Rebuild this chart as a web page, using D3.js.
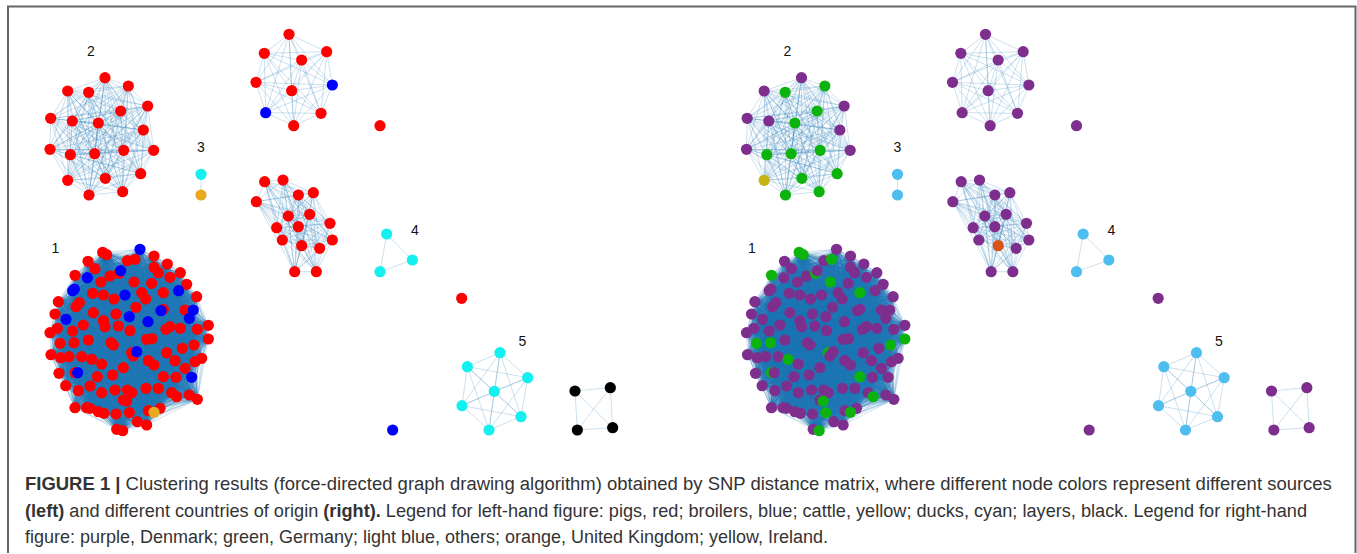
<!DOCTYPE html>
<html>
<head>
<meta charset="utf-8">
<script src="https://cdn.jsdelivr.net/npm/d3@7"></script>
<style>
  html, body { margin: 0; padding: 0; background: #fff; }
  svg { display: block; }
  text { font-family: "Liberation Sans", Arial, Helvetica, sans-serif; }
</style>
</head>
<body>
<svg id="fig" width="1357" height="554"></svg>
<script>
// ---- layout data -------------------------------------------------------
// Node positions come from the force-directed layout, in layout units.
// Each cluster is stored in its own local frame; clusterFrames gives the
// shift of that frame inside the shared layout space.
// Row format: [x, y, source, country]
//   source:  p = pigs, b = broilers, c = cattle, d = ducks, l = layers
//   country: dk = Denmark, de = Germany, ot = others, uk = United Kingdom, ie = Ireland

const clusterFrames = [
  { id: "c1", dx: 0,    dy: 660 },
  { id: "c2", dx: 0,    dy: 0 },
  { id: "cA", dx: 600,  dy: 0 },
  { id: "cB", dx: 672,  dy: 0 },
  { id: "c3", dx: 0,    dy: 0 },
  { id: "c4", dx: 1080, dy: 600 },
  { id: "c5", dx: 1080, dy: 600 },
  { id: "c6", dx: 1080, dy: 600 },
  { id: "s1", dx: 600,  dy: 0 },
  { id: "s2", dx: 1080, dy: 600 },
  { id: "s3", dx: 1080, dy: 600 }
];

const cluster1 = [
  [420,88,"b","dk"],[308,97,"p","de"],[320,104,"p","de"],[462,108,"p","dk"],[264,124,"p","dk"],
  [382,122,"p","dk"],[405,118,"p","de"],[502,132,"p","dk"],[285,146,"p","dk"],[462,142,"p","dk"],
  [475,158,"p","dk"],[541,158,"p","dk"],[225,166,"p","de"],[330,168,"p","dk"],[357,160,"p","de"],
  [510,172,"p","dk"],[262,173,"b","dk"],[362,152,"b","dk"],[303,186,"p","dk"],[402,186,"p","de"],
  [455,190,"p","dk"],[560,193,"p","dk"],[218,212,"b","dk"],[223,207,"b","dk"],[278,220,"p","dk"],
  [310,225,"p","dk"],[342,237,"p","dk"],[425,218,"p","dk"],[437,237,"p","dk"],[490,218,"p","de"],
  [590,230,"p","dk"],[375,225,"b","dk"],[536,212,"b","dk"],[175,245,"p","dk"],[238,248,"p","dk"],
  [228,260,"p","dk"],[165,282,"p","dk"],[280,278,"p","dk"],[348,282,"p","dk"],[408,262,"p","dk"],
  [555,270,"p","dk"],[490,268,"p","dk"],[483,272,"b","dk"],[580,270,"b","dk"],[568,295,"b","dk"],
  [388,290,"b","dk"],[444,305,"b","dk"],[198,298,"b","dk"],[310,302,"p","dk"],[315,320,"p","dk"],
  [250,315,"p","dk"],[172,325,"p","dk"],[150,338,"p","dk"],[218,333,"p","dk"],[355,318,"p","dk"],
  [390,332,"p","dk"],[498,328,"p","dk"],[510,320,"p","dk"],[541,325,"p","dk"],[592,328,"p","dk"],
  [625,316,"p","dk"],[265,360,"p","dk"],[180,370,"p","de"],[222,368,"p","de"],[333,368,"p","dk"],
  [340,375,"p","dk"],[440,358,"p","dk"],[456,356,"p","dk"],[547,385,"p","dk"],[582,375,"p","de"],
  [625,357,"p","de"],[153,404,"p","dk"],[182,413,"p","dk"],[207,410,"p","dk"],[245,410,"p","dk"],
  [275,418,"p","de"],[395,398,"p","de"],[400,408,"p","dk"],[445,422,"p","dk"],[462,435,"p","dk"],
  [500,398,"p","dk"],[525,422,"p","dk"],[585,425,"p","dk"],[605,415,"p","dk"],[410,395,"b","dk"],
  [305,432,"p","dk"],[370,443,"p","dk"],[555,445,"p","dk"],[177,460,"p","dk"],[225,458,"p","de"],
  [292,470,"p","dk"],[338,465,"p","dk"],[490,470,"p","de"],[528,472,"p","dk"],[233,458,"b","dk"],
  [575,472,"b","dk"],[197,497,"p","dk"],[235,512,"p","dk"],[270,498,"p","dk"],[305,518,"p","dk"],
  [345,510,"p","dk"],[382,510,"p","dk"],[395,518,"p","dk"],[438,505,"p","dk"],[475,505,"p","dk"],
  [515,518,"p","dk"],[530,530,"p","de"],[568,525,"p","dk"],[592,538,"p","dk"],[370,540,"p","dk"],
  [380,543,"p","de"],[225,563,"p","dk"],[260,563,"p","dk"],[270,565,"p","dk"],[295,575,"p","dk"],
  [312,580,"p","dk"],[348,582,"p","dk"],[388,578,"p","de"],[445,572,"p","dk"],[480,565,"p","dk"],
  [462,577,"c","de"],[412,605,"p","dk"],[440,615,"p","dk"],[350,628,"p","dk"],[368,632,"p","de"]
];

const cluster2 = [
  [315,233,"p","dk"],[203,273,"p","dk"],[266,277,"p","de"],[385,258,"p","de"],[443,318,"p","dk"],
  [362,333,"p","de"],[152,355,"p","dk"],[217,363,"p","dk"],[295,369,"p","de"],[430,390,"p","dk"],
  [150,448,"p","dk"],[211,464,"p","de"],[284,461,"p","de"],[371,451,"p","de"],[461,451,"p","dk"],
  [422,521,"p","de"],[203,541,"p","ie"],[316,535,"p","de"],[368,575,"p","de"],[267,585,"p","de"]
];

const clusterA = [
  [267,103,"p","dk"],[193,160,"p","dk"],[380,155,"p","dk"],[305,180,"p","dk"],[168,247,"p","dk"],
  [397,255,"b","dk"],[275,272,"p","dk"],[197,338,"b","dk"],[363,340,"p","dk"],[281,377,"p","dk"]
];

const clusterB = [
  [122,545,"p","dk"],[177,540,"p","dk"],[97,605,"p","dk"],[223,585,"p","dk"],[268,578,"p","dk"],
  [193,648,"p","dk"],[257,643,"p","dk"],[318,670,"p","dk"],[158,683,"p","dk"],[223,680,"p","dk"],
  [175,720,"p","dk"],[233,737,"p","uk"],[287,745,"p","dk"],[325,720,"p","dk"],[212,815,"p","dk"],
  [277,815,"p","dk"]
];

const cluster3 = [[603,523,"d","ot"],[603,585,"c","ot"]];
const cluster4 = [[80,102,"d","ot"],[157,180,"d","ot"],[60,215,"d","ot"]];
const cluster5 = [
  [420,458,"d","ot"],[322,500,"d","ot"],[503,533,"d","ot"],[403,574,"d","ot"],
  [306,617,"d","ot"],[483,650,"d","ot"],[387,690,"d","ot"]
];
const cluster6 = [[645,573,"l","dk"],[751,563,"l","dk"],[652,690,"l","dk"],[758,683,"l","dk"]];
const single1 = [[540,377,"p","dk"]];
const single2 = [[305,295,"p","dk"]];
const single3 = [[98,690,"b","dk"]];

// cluster number labels, in layout units
const clusterLabels = [
  { text: "1", x: 166, y: 745 },
  { text: "2", x: 273, y: 153 },
  { text: "3", x: 603, y: 441 },
  { text: "4", x: 1245, y: 690 },
  { text: "5", x: 1567, y: 1022 }
];

const sourceColors = { p: "#ff0000", b: "#0000ff", c: "#e9a91f", d: "#13f0f0", l: "#000000" };
const countryColors = { dk: "#7e2f8e", de: "#0cb30c", ot: "#4dbeee", uk: "#d95319", ie: "#c2b412" };

const panels = [
  { name: "sources",   offset: 0,     colorBy: 2, palette: sourceColors },
  { name: "countries", offset: 696.5, colorBy: 3, palette: countryColors }
];

const captionLines = [
  [["FIGURE 1 | ", true], ["Clustering results (force-directed graph drawing algorithm) obtained by SNP distance matrix, where different node colors represent different sources", false]],
  [["(left)", true], [" and different countries of origin ", false], ["(right).", true], [" Legend for left-hand figure: pigs, red; broilers, blue; cattle, yellow; ducks, cyan; layers, black. Legend for right-hand", false]],
  [["figure: purple, Denmark; green, Germany; light blue, others; orange, United Kingdom; yellow, Ireland.", false]]
];
const captionRight = [1332, 1307, 828];

// ---- drawing -----------------------------------------------------------
const svg = d3.select("#fig");

// figure frame (open at the bottom)
svg.append("path")
  .attr("d", "M8,553 V6.5 H1355.5 V553")
  .attr("fill", "none")
  .attr("stroke", "#666")
  .attr("stroke-width", 2);

const clusterData = {
  c1: cluster1, c2: cluster2, cA: clusterA, cB: clusterB, c3: cluster3,
  c4: cluster4, c5: cluster5, c6: cluster6, s1: single1, s2: single2, s3: single3
};

const yScale = d3.scaleLinear().domain([0, 1320]).range([0, 440]);

panels.forEach(panel => {
  const xScale = d3.scaleLinear().domain([0, 1800]).range([panel.offset, panel.offset + 600]);
  const g = svg.append("g").attr("class", "panel-" + panel.name);
  const edgeG = g.append("g")
    .attr("stroke", "#1f77b4")
    .attr("stroke-opacity", 0.33)
    .attr("stroke-width", 0.7);
  const nodeG = g.append("g");

  clusterFrames.forEach(fr => {
    const rows = clusterData[fr.id].map(r => ({
      x: xScale(r[0] + fr.dx),
      y: yScale(r[1] + fr.dy),
      color: panel.palette[r[panel.colorBy]]
    }));
    // every pair inside a cluster is linked
    const links = [];
    for (let i = 0; i < rows.length; i++)
      for (let j = i + 1; j < rows.length; j++) links.push([rows[i], rows[j]]);
    edgeG.selectAll(null).data(links).join("line")
      .attr("x1", d => d[0].x).attr("y1", d => d[0].y)
      .attr("x2", d => d[1].x).attr("y2", d => d[1].y);
    nodeG.selectAll(null).data(rows).join("circle")
      .attr("cx", d => d.x).attr("cy", d => d.y)
      .attr("r", 5.6)
      .attr("fill", d => d.color);
  });

  g.append("g").selectAll("text").data(clusterLabels).join("text")
    .attr("x", d => xScale(d.x))
    .attr("y", d => yScale(d.y))
    .attr("text-anchor", "middle")
    .attr("dominant-baseline", "central")
    .attr("font-size", 14)
    .attr("fill", "#111")
    .text(d => d.text);
});

// caption
const capG = svg.append("g").attr("fill", "#333");
const baselines = [490, 516.5, 543];
const capTexts = captionLines.map((parts, i) => {
  const t = capG.append("text").attr("x", 25).attr("y", baselines[i]).attr("font-size", 17);
  parts.forEach(([s, bold]) => {
    t.append("tspan").attr("font-weight", bold ? "bold" : "normal").text(s);
  });
  return t;
});
const w0 = capTexts[0].node().getComputedTextLength();
const fs = 17 * (captionRight[0] - 25) / w0;
capTexts.forEach((t, i) => {
  t.attr("font-size", fs);
  if (i > 0) {
    t.attr("textLength", captionRight[i] - 25).attr("lengthAdjust", "spacingAndGlyphs");
  }
});
</script>
</body>
</html>
